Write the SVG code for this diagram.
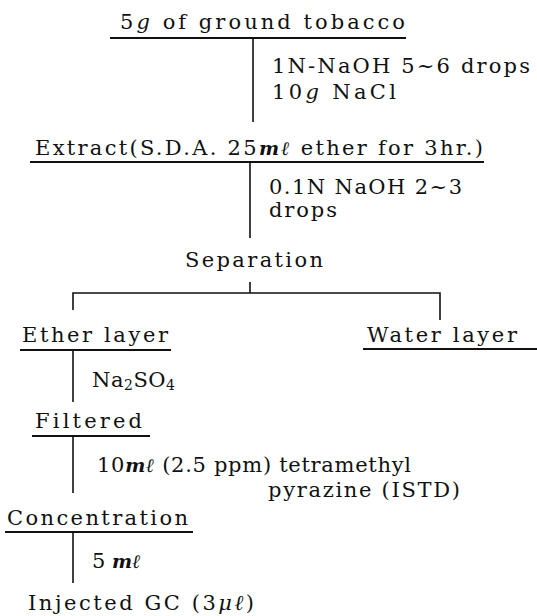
<svg xmlns="http://www.w3.org/2000/svg" width="537" height="616" viewBox="0 0 537 616">
<style>
text{font-family:"DejaVu Serif","Liberation Serif",serif;font-size:21px;fill:#111}
.it{font-style:italic}
.bi{font-style:italic;font-weight:bold;font-size:19px}
.sub{font-size:14px}
line{stroke:#111;stroke-width:1.6;fill:none}
.ul{stroke-width:2}
</style>
<rect width="537" height="616" fill="#fff"/>
<g id="connectors">
<line x1="253" y1="38" x2="253" y2="122"/>
<line x1="250" y1="162" x2="250" y2="238"/>
<line x1="250" y1="282" x2="250" y2="293"/>
<polyline points="73,310 73,293 440,293 440,320" stroke="#111" stroke-width="1.6" fill="none"/>
<line x1="73" y1="350" x2="73" y2="402"/>
<line x1="73" y1="436" x2="73" y2="493"/>
<line x1="73" y1="532" x2="73" y2="583"/>
</g>
<g id="tobacco">
<text x="120" y="29" textLength="285" lengthAdjust="spacing">5<tspan class="it">g</tspan> of ground tobacco</text>
<line class="ul" x1="110" y1="38" x2="406" y2="38"/>
</g>
<g id="reagent1">
<text x="272" y="73" textLength="258" lengthAdjust="spacing">1N-NaOH 5~6 drops</text>
<text x="272" y="99" textLength="124" lengthAdjust="spacing">10<tspan class="it">g</tspan> NaCl</text>
</g>
<g id="extract">
<text x="35" y="155" textLength="448" lengthAdjust="spacing">Extract(S.D.A. 25<tspan class="bi">mℓ</tspan> ether for 3hr.)</text>
<line class="ul" x1="30" y1="162" x2="484" y2="162"/>
</g>
<g id="reagent2">
<text x="269" y="194" textLength="193" lengthAdjust="spacing">0.1N NaOH 2~3</text>
<text x="269" y="217" textLength="68" lengthAdjust="spacing">drops</text>
</g>
<g id="separation">
<text x="185" y="267" textLength="138" lengthAdjust="spacing">Separation</text>
</g>
<g id="ether">
<text x="22" y="342" textLength="146" lengthAdjust="spacing">Ether layer</text>
<line class="ul" x1="20" y1="350" x2="171" y2="350"/>
</g>
<g id="water">
<text x="367" y="342" textLength="150" lengthAdjust="spacing">Water layer</text>
<line class="ul" x1="363" y1="349" x2="537" y2="349"/>
</g>
<g id="reagent3">
<text x="92" y="387" textLength="83" lengthAdjust="spacing">Na<tspan class="sub" dy="3">2</tspan><tspan dy="-3">SO</tspan><tspan class="sub" dy="3">4</tspan></text>
</g>
<g id="filtered">
<text x="35" y="428" textLength="107" lengthAdjust="spacing">Filtered</text>
<line class="ul" x1="32" y1="436" x2="150" y2="436"/>
</g>
<g id="reagent4">
<text x="97" y="472" textLength="314" lengthAdjust="spacing">10<tspan class="bi">mℓ</tspan> (2.5 ppm) tetramethyl</text>
<text x="268" y="497" textLength="192" lengthAdjust="spacing">pyrazine (ISTD)</text>
</g>
<g id="concentration">
<text x="7" y="525" textLength="181" lengthAdjust="spacing">Concentration</text>
<line class="ul" x1="5" y1="532" x2="193" y2="532"/>
</g>
<g id="reagent5">
<text x="92" y="568">5 <tspan class="bi">mℓ</tspan></text>
</g>
<g id="injected">
<text x="28" y="610" textLength="226" lengthAdjust="spacing">Injected GC (3<tspan class="it">μℓ</tspan>)</text>
</g>
</svg>
